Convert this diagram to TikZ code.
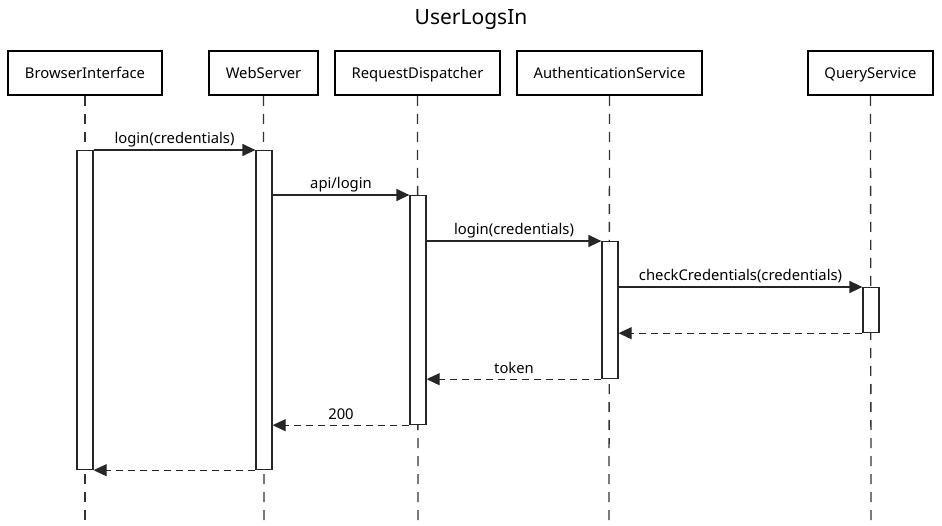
\documentclass[tikz,border=0pt]{standalone}
\usepackage{fontspec}
\setmainfont{Noto Sans}
\usetikzlibrary{arrows.meta}
\begin{document}
\begin{tikzpicture}[x=1pt,y=-1pt,
  actor/.style={draw=black, line width=2pt, fill=white, minimum height=44pt, inner sep=0pt, text height=13pt, text depth=1.5pt, font=\fontsize{14.8}{17}\selectfont},
  life/.style={draw=black!80, line width=1.3pt, dash pattern=on 10pt off 8pt},
  actbar/.style={draw=black!85, line width=1.2pt, fill=white, minimum width=16pt, inner sep=0pt, anchor=north},
  msg/.style={draw=black!85, line width=1.2pt, -{Triangle[length=13pt,width=12pt]}},
  ret/.style={msg, dash pattern=on 7pt off 5pt},
  lbl/.style={font=\fontsize{14.8}{17}\selectfont, above, inner sep=2.5pt, text height=10.5pt, text depth=3pt}]
\useasboundingbox (0,0) rectangle (942,526);
\node[font=\fontsize{21}{24}\selectfont] (title) at (471,19.5) {UserLogsIn};
% actors
\node[actor, minimum width=154pt] (bi) at (85,73) {BrowserInterface};
\node[actor, minimum width=109pt] (ws) at (263.5,73) {WebServer};
\node[actor, minimum width=165pt] (rd) at (417.5,73) {RequestDispatcher};
\node[actor, minimum width=185pt] (as) at (609.5,73) {AuthenticationService};
\node[actor, minimum width=125pt] (qs) at (870.5,73) {QueryService};
% lifeline ends
\coordinate (biE) at (85,522);
\coordinate (wsE) at (264,522);
\coordinate (rdE) at (418,522);
\coordinate (asE) at (609,522);
\coordinate (qsE) at (871,522);
\draw[life] (bi.south) -- (biE);
\draw[life] (ws.south) -- (wsE);
\draw[life] (rd.south) -- (rdE);
\draw[life] (as.south) -- (asE);
\draw[life] (qs.south) -- (qsE);
% activation bars
\node[actbar, draw, minimum height=319pt] (biA) at (85,150) {};
\node[actbar, draw, minimum height=319pt] (wsA) at (264,150) {};
\node[actbar, draw, minimum height=229pt] (rdA) at (418,195) {};
\node[actbar, draw, minimum height=137pt] (asA) at (610,241) {};
\node[actbar, draw, minimum height=45pt] (qsA) at (871,287) {};
% messages
\draw[msg] (biA.north east) -- node[lbl] {login(credentials)} (wsA.north west);
\draw[msg] (wsA.east |- rdA.north) -- node[lbl] {api/login} (rdA.north west);
\draw[msg] (rdA.east |- asA.north) -- node[lbl] {login(credentials)} (asA.north west);
\draw[msg] (asA.east |- qsA.north) -- node[lbl] {checkCredentials(credentials)} (qsA.north west);
\draw[ret] (qsA.south west) -- (asA.east |- qsA.south);
\draw[ret] (asA.south west) -- node[lbl] {token} (rdA.east |- asA.south);
\draw[ret] (rdA.south west) -- node[lbl] {200} (wsA.east |- rdA.south);
\draw[ret] (wsA.south west) -- (biA.south east);
\end{tikzpicture}
\end{document}
